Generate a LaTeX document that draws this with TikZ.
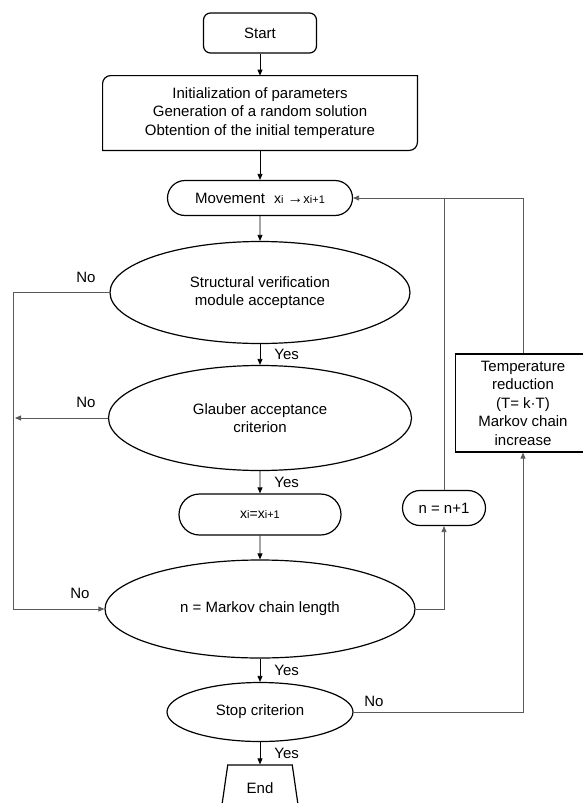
\documentclass[tikz,border=0pt]{standalone}
\usepackage{fontspec}
\setmainfont{Liberation Sans}
\usetikzlibrary{shapes.geometric,shapes.misc,arrows.meta}
\newcommand{\smallidx}[1]{{\fontsize{11}{11}\selectfont #1}}
\begin{document}
\begin{tikzpicture}[x=1pt, y=1pt, line width=0.8pt,
  every node/.style={font=\fontsize{15}{18.5}\selectfont, inner sep=0pt, align=center},
  term/.style={draw, line width=1.2pt, rounded rectangle},
  decision/.style={draw, line width=1.2pt, ellipse},
  flow/.style={-{Triangle[length=6pt, width=5pt]}},
  loopc/.style={draw=black!65}]
  \useasboundingbox (0,0) rectangle (582,-803);

  \node[draw, line width=1.2pt, rounded corners=7pt, minimum width=113pt, minimum height=40pt] (start) at (260,-33) {Start};
  \node[minimum width=314pt, minimum height=74pt] (init) at (260,-113)
       {Initialization of parameters\\Generation of a random solution\\Obtention of the initial temperature};
  \draw[line width=1.2pt] ([xshift=8pt]init.north west) -- (init.north east) -- ([yshift=8pt]init.south east)
        arc[start angle=0, end angle=-90, radius=8pt] -- (init.south west) -- ([yshift=-8pt]init.north west)
        arc[start angle=180, end angle=90, radius=8pt] -- cycle;
  \node[term, minimum width=185pt, minimum height=35pt] (move) at (260,-198)
       {Movement\hspace{9pt}{\fontsize{14}{14}\selectfont x}\smallidx{i}\hspace{4pt}{\fontsize{16}{16}\selectfont →}{\fontsize{13}{13}\selectfont x}\smallidx{i+1}};
  \node[decision, minimum width=300pt, minimum height=102pt] (ver) at (260,-292.5) {Structural verification\\module acceptance};
  \node[decision, minimum width=303pt, minimum height=105pt] (glau) at (260,-418) {Glauber acceptance\\criterion};
  \node[term, minimum width=162pt, minimum height=41pt] (upd) at (260,-514.5)
       {{\fontsize{14}{14}\selectfont x}\smallidx{i}{\fontsize{14}{14}\selectfont =x}\smallidx{i+1}};
  \node[decision, minimum width=310pt, minimum height=98pt] (chain) at (260,-609) {n = Markov chain length};
  \node[term, minimum width=83pt, minimum height=35pt] (incr) at (444,-508) {n = n+1};
  \node[draw, line width=1.2pt, minimum width=135pt, minimum height=98pt] (temp) at (523,-403)
       {Temperature\\reduction\\(T= k·T)\\Markov chain\\increase};
  \node[decision, minimum width=186pt, minimum height=59pt] (stop) at (260,-712) {Stop criterion};
  \node[draw, line width=1.2pt, trapezium, trapezium left angle=76, trapezium right angle=76,
        trapezium stretches=true, minimum width=78pt, minimum height=46pt] (end) at (260,-788) {End};

  \coordinate (rail) at (13,-300);

  \draw[flow] (start) -- (init);
  \draw[flow] (init) -- (move);
  \draw[flow] (move) -- (ver);
  \draw[flow] (ver) -- (glau) node[midway, right, xshift=14pt] (yes1) {Yes};
  \draw[flow] (glau) -- (upd) node[midway, right, xshift=14pt] (yes2) {Yes};
  \draw[flow] (upd) -- (chain);
  \draw[flow] (chain) -- (stop) node[midway, right, xshift=14pt] (yes3) {Yes};
  \draw[flow] (stop) -- (end) node[midway, right, xshift=14pt] (yes4) {Yes};

  \draw[flow, loopc] (ver.west) -- (ver.west -| rail) |- (chain.west);
  \draw[flow, loopc] (glau.west) -- ([xshift=2pt]glau.west -| rail);
  \draw[flow, loopc] (chain.east) -| (incr.south);
  \draw[loopc] (incr.north) -- (incr.north |- move.east);
  \draw[flow, loopc] (temp.north) |- (move.east);
  \draw[flow, loopc] (stop.east) -| (temp.south);

  \node (no1) at (86,-277) {No};
  \node (no2) at (86,-402) {No};
  \node (no3) at (80,-593) {No};
  \node (no4) at (374,-701) {No};
\end{tikzpicture}
\end{document}
